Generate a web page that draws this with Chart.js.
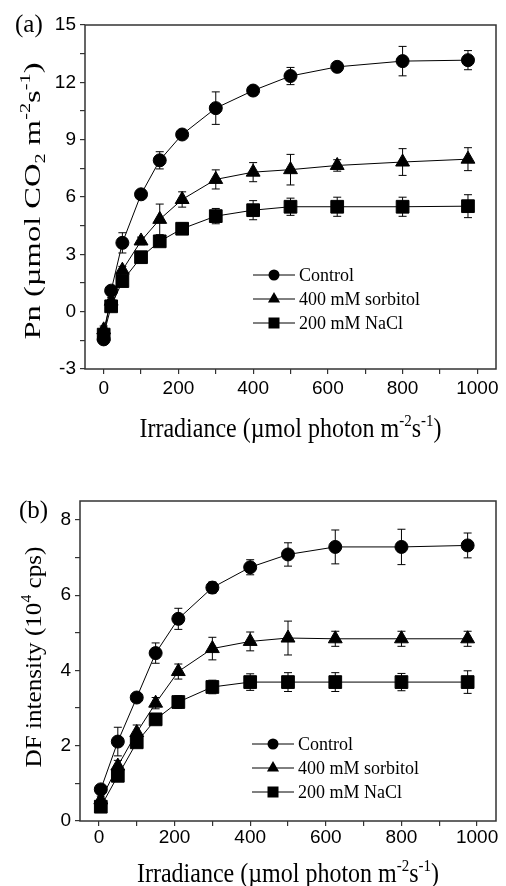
<!DOCTYPE html>
<html lang="en">
<head>
<meta charset="utf-8" />
<title>Pn and DF light response</title>
<script src="https://cdn.jsdelivr.net/npm/chart.js@4/dist/chart.umd.min.js"></script>
<style>
  body { margin: 0; background: #fff; }
  .panel { position: relative; width: 506px; height: 443px; }
</style>
</head>
<body>
<div class="panel"><canvas id="chartA"></canvas></div>
<div class="panel"><canvas id="chartB"></canvas></div>
<script>
// ---- data ----
var seriesNames = ['Control', '400 mM sorbitol', '200 mM NaCl'];

// panel (a): net photosynthesis
var irrA = [0, 20, 50, 100, 150, 210, 300, 400, 500, 625, 800, 975];
var pnControl = [-1.45, 1.1, 3.6, 6.14, 7.92, 9.27, 10.65, 11.57, 12.33, 12.81, 13.11, 13.16];
var pnControlErr = [0.2, 0.2, 0.53, 0.2, 0.45, 0.2, 0.85, 0.2, 0.45, 0.2, 0.77, 0.5];
var pnSorbitol = [-0.95, 0.55, 2.17, 3.7, 4.83, 5.87, 6.92, 7.3, 7.43, 7.65, 7.83, 7.98];
var pnSorbitolErr = [0.2, 0.2, 0.2, 0.2, 0.8, 0.4, 0.5, 0.5, 0.8, 0.3, 0.7, 0.6];
var pnNacl = [-1.2, 0.28, 1.6, 2.85, 3.68, 4.34, 5.0, 5.31, 5.49, 5.49, 5.49, 5.52];
var pnNaclErr = [0.15, 0.15, 0.2, 0.25, 0.2, 0.3, 0.4, 0.5, 0.45, 0.5, 0.5, 0.6];

// panel (b): delayed fluorescence
var irrB = [5, 50, 100, 150, 210, 300, 400, 500, 625, 800, 975];
var dfControl = [0.84, 2.11, 3.28, 4.46, 5.37, 6.2, 6.74, 7.08, 7.28, 7.28, 7.32];
var dfControlErr = [0.1, 0.38, 0.1, 0.27, 0.28, 0.15, 0.2, 0.31, 0.45, 0.47, 0.33];
var dfSorbitol = [0.56, 1.46, 2.35, 3.13, 3.97, 4.58, 4.77, 4.86, 4.84, 4.84, 4.84];
var dfSorbitolErr = [0.1, 0.15, 0.2, 0.15, 0.2, 0.3, 0.25, 0.45, 0.2, 0.2, 0.2];
var dfNacl = [0.38, 1.2, 2.09, 2.7, 3.16, 3.56, 3.69, 3.69, 3.69, 3.69, 3.69];
var dfNaclErr = [0.1, 0.1, 0.1, 0.1, 0.17, 0.18, 0.22, 0.25, 0.25, 0.23, 0.3];

// tick labels
var xTicks = [0, 100, 200, 300, 400, 500, 600, 700, 800, 900, 1000];
var yTicksA = [-3, -1.5, 0, 1.5, 3, 4.5, 6, 7.5, 9, 10.5, 12, 13.5, 15];
var yTicksB = [0, 1, 2, 3, 4, 5, 6, 7, 8];

var SERIF = '"Liberation Serif", "Times New Roman", serif';
var SANS = '"Liberation Sans", Arial, sans-serif';
var AXIS = '#333';
var styles = ['circle', 'triangle', 'rect'];
var radii = [6.5, 8, 9];

function pts(xs, ys) {
  return xs.map(function (x, i) { return { x: x, y: ys[i] }; });
}

function makeSets(xs, groups) {
  return groups.map(function (g, i) {
    return {
      label: seriesNames[i],
      data: pts(xs, g[0]),
      err: g[1],
      borderColor: '#000',
      backgroundColor: '#000',
      borderWidth: 1,
      pointStyle: styles[i],
      pointRadius: radii[i],
      pointBorderWidth: 1,
      pointBackgroundColor: '#000',
      tension: 0
    };
  });
}

function drawMarker(ctx, style, x, y, r) {
  ctx.beginPath();
  if (style === 'circle') {
    ctx.arc(x, y, r, 0, Math.PI * 2);
  } else if (style === 'triangle') {
    ctx.moveTo(x, y - r);
    ctx.lineTo(x + r * 0.866, y + r * 0.5);
    ctx.lineTo(x - r * 0.866, y + r * 0.5);
    ctx.closePath();
  } else {
    ctx.rect(x - r, y - r, 2 * r, 2 * r);
  }
  ctx.fill();
}

// text with super/subscripts; parts = [[text, mode]] mode 1 sup, -1 sub
function drawRich(ctx, parts, x, y, size, o) {
  var small = Math.round(size * 0.62);
  var total = 0;
  parts.forEach(function (p) {
    ctx.font = (p[1] ? small : size) + 'px ' + SERIF;
    p.w = ctx.measureText(p[0]).width;
    total += p.w;
  });
  var sx = o.len ? o.len / total : 1;
  ctx.save();
  ctx.translate(x, y);
  ctx.rotate(o.rot || 0);
  ctx.scale(sx, o.thick || 1);
  ctx.fillStyle = '#000';
  ctx.textBaseline = 'alphabetic';
  ctx.textAlign = 'left';
  var cx = -total / 2;
  parts.forEach(function (p) {
    ctx.font = (p[1] ? small : size) + 'px ' + SERIF;
    var dy = p[1] === 1 ? -size * 0.42 : (p[1] === -1 ? size * 0.2 : 0);
    ctx.fillText(p[0], cx, dy);
    cx += p.w;
  });
  ctx.restore();
}

var errorBars = {
  id: 'errorBars',
  beforeDatasetsDraw: function (chart) {
    var ctx = chart.ctx, ys = chart.scales.y;
    ctx.save();
    ctx.strokeStyle = '#000';
    ctx.lineWidth = 1;
    chart.data.datasets.forEach(function (ds, di) {
      var meta = chart.getDatasetMeta(di);
      meta.data.forEach(function (pt, i) {
        var v = ds.data[i].y, e = ds.err[i];
        var top = ys.getPixelForValue(v + e), bot = ys.getPixelForValue(v - e);
        ctx.beginPath();
        ctx.moveTo(pt.x, top); ctx.lineTo(pt.x, bot);
        ctx.moveTo(pt.x - 4, top); ctx.lineTo(pt.x + 4, top);
        ctx.moveTo(pt.x - 4, bot); ctx.lineTo(pt.x + 4, bot);
        ctx.stroke();
      });
    });
    ctx.restore();
  }
};

var decor = {
  id: 'decor',
  afterDraw: function (chart) {
    var o = chart.options.plugins.decor, ctx = chart.ctx, a = chart.chartArea;
    ctx.save();
    // frame
    ctx.strokeStyle = AXIS;
    ctx.lineWidth = 1.5;
    ctx.strokeRect(a.left, a.top, a.right - a.left, a.bottom - a.top);
    // panel label
    ctx.fillStyle = '#000';
    ctx.font = '25px ' + SERIF;
    ctx.textBaseline = 'middle';
    ctx.fillText(o.tag, o.tagX, o.tagY);
    // legend
    ctx.font = '18px ' + SERIF;
    chart.data.datasets.forEach(function (ds, i) {
      var y = o.legY + i * 24;
      ctx.strokeStyle = '#000';
      ctx.lineWidth = 1;
      ctx.beginPath();
      ctx.moveTo(o.legX, y); ctx.lineTo(o.legX + 42, y);
      ctx.stroke();
      ctx.fillStyle = '#000';
      drawMarker(ctx, ds.pointStyle, o.legX + 21, y, [5.5, 7, 5.5][i]);
      ctx.textBaseline = 'middle';
      ctx.fillText(ds.label, o.legX + 46, y + 1);
    });
    ctx.restore();
    // axis titles
    drawRich(ctx, o.xTitle, (a.left + a.right) / 2, o.xTitleY, 24, { thick: 1.1 });
    drawRich(ctx, o.yTitle, o.yTitleX, o.yTitleY, 24, { rot: -Math.PI / 2, len: o.yTitleLen });
  }
};

function makeChart(id, xs, groups, yMin, yMax, yTicks, yLabelEvery, box, deco) {
  var H = 443;
  return new Chart(document.getElementById(id), {
    type: 'line',
    data: { datasets: makeSets(xs, groups) },
    plugins: [errorBars, decor],
    options: {
      responsive: false,
      animation: false,
      layout: { padding: { left: 0, top: box.top, right: 506 - box.right, bottom: 0 } },
      plugins: { legend: { display: false }, tooltip: { enabled: false }, decor: deco },
      scales: {
        x: {
          type: 'linear', min: -50, max: 1050,
          afterBuildTicks: function (s) { s.ticks = xTicks.map(function (v) { return { value: v }; }); },
          afterFit: function (s) { s.height = H - box.bottom; },
          ticks: {
            autoSkip: false, maxRotation: 0, color: '#000', padding: box.xPad,
            font: { family: SANS, size: 19 },
            callback: function (v) { return v % 200 === 0 ? String(v) : ''; }
          },
          grid: { drawOnChartArea: false, tickLength: 5, color: AXIS, lineWidth: 1.2 },
          border: { display: false }
        },
        y: {
          min: yMin, max: yMax,
          afterBuildTicks: function (s) { s.ticks = yTicks.map(function (v) { return { value: v }; }); },
          afterFit: function (s) { s.width = box.left; },
          ticks: {
            autoSkip: false, color: '#000', padding: box.yPad,
            font: { family: SANS, size: 19 },
            callback: function (v, i) { return i % yLabelEvery === 0 ? String(v) : ''; }
          },
          grid: { drawOnChartArea: false, tickLength: 5, color: AXIS, lineWidth: 1.2 },
          border: { display: false }
        }
      }
    }
  });
}

var canvases = document.querySelectorAll('canvas');
canvases.forEach(function (c) { c.width = 506; c.height = 443; });

makeChart('chartA', irrA,
  [[pnControl, pnControlErr], [pnSorbitol, pnSorbitolErr], [pnNacl, pnNaclErr]],
  -3, 15, yTicksA, 2,
  { left: 85, right: 501, top: 25, bottom: 369, xPad: 3, yPad: 4 },
  {
    tag: '(a)', tagX: 15, tagY: 25,
    legX: 253, legY: 275,
    xTitleY: 437,
    xTitle: [['Irradiance (\u00b5mol photon m', 0], ['-2', 1], ['s', 0], ['-1', 1], [')', 0]],
    yTitleX: 40, yTitleY: 201, yTitleLen: 277,
    yTitle: [['Pn (\u00b5mol CO', 0], ['2', -1], [' m', 0], ['-2', 1], ['s', 0], ['-1', 1], [')', 0]]
  });

makeChart('chartB', irrB,
  [[dfControl, dfControlErr], [dfSorbitol, dfSorbitolErr], [dfNacl, dfNaclErr]],
  0, 8.5, yTicksB, 2,
  { left: 80, right: 499, top: 58, bottom: 378, xPad: 0, yPad: 4 },
  {
    tag: '(b)', tagX: 19, tagY: 68,
    legX: 252, legY: 301,
    xTitleY: 439,
    xTitle: [['Irradiance (\u00b5mol photon m', 0], ['-2', 1], ['s', 0], ['-1', 1], [')', 0]],
    yTitleX: 41, yTitleY: 214, yTitleLen: 221,
    yTitle: [['DF intensity (10', 0], ['4', 1], [' cps)', 0]]
  });
</script>
</body>
</html>
